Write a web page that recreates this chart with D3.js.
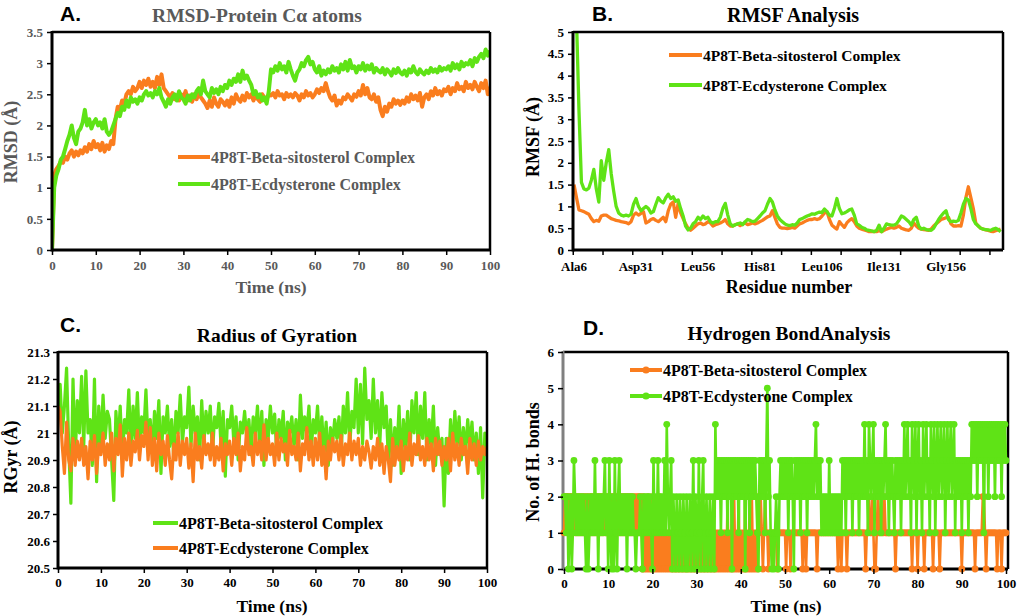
<!DOCTYPE html>
<html><head><meta charset="utf-8">
<script src="https://cdn.jsdelivr.net/npm/d3@7"></script>
<style>
body{margin:0;background:#fff}
svg{display:block}
text{font-family:"Liberation Serif","Times New Roman",serif;font-weight:bold}
</style></head><body>
<svg id="c" width="1019" height="616"></svg>
<script>
const ORANGE="#fa7d1e", GREEN="#5fe316";

// ---------- Panel A: RMSD (0..100 ns, every 0.5 ns) ----------
const rmsdBeta=[
0,1.2,1.3,1.35,1.42,1.4,1.5,1.45,1.55,1.6,
1.5,1.58,1.52,1.6,1.55,1.65,1.58,1.7,1.62,1.75,
1.65,1.7,1.6,1.72,1.58,1.68,1.62,1.75,1.7,2.1,
2.3,2.25,2.4,2.35,2.5,2.55,2.5,2.62,2.55,2.6,
2.7,2.6,2.72,2.65,2.75,2.62,2.7,2.6,2.78,2.65,
2.82,2.6,2.55,2.5,2.45,2.52,2.42,2.48,2.4,2.5,
2.45,2.55,2.4,2.48,2.38,2.5,2.42,2.52,2.45,2.4,
2.35,2.28,2.4,2.3,2.45,2.35,2.3,2.42,2.38,2.32,
2.4,2.3,2.45,2.35,2.5,2.42,2.38,2.48,2.4,2.52,
2.45,2.5,2.4,2.48,2.42,2.38,2.5,2.45,2.42,2.5,
2.48,2.52,2.45,2.55,2.48,2.5,2.42,2.52,2.46,2.5,
2.45,2.52,2.48,2.4,2.5,2.45,2.55,2.48,2.52,2.45,
2.5,2.58,2.52,2.6,2.55,2.68,2.55,2.45,2.4,2.48,
2.32,2.4,2.35,2.45,2.42,2.5,2.45,2.4,2.5,2.46,
2.55,2.48,2.65,2.5,2.6,2.45,2.42,2.5,2.38,2.45,
2.25,2.15,2.3,2.22,2.35,2.3,2.42,2.35,2.4,2.33,
2.4,2.35,2.45,2.38,2.5,2.42,2.48,2.4,2.52,2.3,
2.45,2.5,2.42,2.55,2.48,2.6,2.5,2.55,2.48,2.58,
2.55,2.62,2.5,2.6,2.55,2.68,2.58,2.62,2.55,2.7,
2.6,2.65,2.58,2.7,2.62,2.55,2.68,2.6,2.72,2.5,
2.62];
const rmsdEcdy=[
0,1.0,1.2,1.3,1.45,1.5,1.62,1.75,1.85,2.0,
1.8,1.7,1.9,1.95,2.05,2.25,2.0,2.1,1.95,2.05,
2.1,2.0,2.05,1.95,2.1,1.9,1.85,1.9,2.0,2.1,
2.2,2.15,2.3,2.25,2.4,2.3,2.45,2.38,2.42,2.35,
2.45,2.4,2.5,2.55,2.48,2.52,2.45,2.55,2.5,2.6,
2.45,2.38,2.3,2.42,2.35,2.45,2.5,2.4,2.55,2.45,
2.42,2.35,2.48,2.4,2.5,2.45,2.55,2.6,2.5,2.72,
2.55,2.5,2.45,2.6,2.52,2.58,2.5,2.62,2.55,2.65,
2.6,2.72,2.65,2.75,2.7,2.82,2.7,2.88,2.75,2.8,
2.72,2.65,2.5,2.55,2.45,2.5,2.4,2.45,2.35,2.55,
2.9,2.85,2.95,2.88,3.0,2.9,2.95,2.85,3.02,2.9,
2.8,2.72,2.85,2.9,3.0,2.95,3.05,3.1,2.98,3.02,
2.9,2.85,2.95,2.8,2.88,2.82,2.9,2.85,2.95,2.88,
2.92,2.85,2.98,2.9,3.02,2.88,3.05,2.92,2.95,2.85,
2.95,2.9,3.0,2.88,2.96,2.9,2.98,2.85,2.92,2.88,
2.85,2.92,2.82,2.9,2.86,2.8,2.9,2.84,2.92,2.85,
2.82,2.88,2.8,2.9,2.85,2.95,2.86,2.82,2.9,2.85,
2.82,2.88,2.84,2.92,2.86,2.9,2.85,2.94,2.88,2.92,
2.9,2.95,2.88,3.0,2.92,2.98,2.9,3.02,2.95,3.0,
2.98,3.05,2.95,3.08,3.02,3.1,3.15,3.08,3.22,3.12,
3.2];
const rmsdTicks=[0,0.5,1,1.5,2,2.5,3,3.5];
const timeTicks=[0,10,20,30,40,50,60,70,80,90,100];

// ---------- Panel B: RMSF per residue (6..178) ----------
const resFirst=6;
const rmsfBeta=[
1.5,1.2,0.92,0.9,0.88,0.85,0.82,0.72,0.65,0.68,
0.66,0.78,0.8,0.8,0.76,0.72,0.7,0.68,0.67,0.65,
0.64,0.63,0.6,0.65,0.8,0.85,0.8,0.84,0.88,0.62,
0.65,0.7,0.72,0.68,0.65,0.7,0.75,0.65,0.9,1.05,
1.1,0.75,1.07,0.85,0.72,0.6,0.5,0.45,0.5,0.55,
0.6,0.62,0.58,0.6,0.65,0.62,0.55,0.58,0.6,0.62,
0.65,0.7,0.6,0.55,0.55,0.58,0.6,0.56,0.6,0.62,
0.58,0.6,0.62,0.6,0.62,0.65,0.68,0.72,0.76,0.78,
0.9,0.75,0.6,0.52,0.5,0.5,0.49,0.5,0.52,0.5,
0.55,0.6,0.62,0.65,0.68,0.7,0.7,0.72,0.7,0.72,
0.78,0.85,0.88,0.7,0.57,0.52,0.48,0.65,0.58,0.52,
0.62,0.68,0.72,0.65,0.55,0.5,0.48,0.46,0.44,0.42,
0.42,0.43,0.42,0.44,0.42,0.45,0.48,0.5,0.52,0.5,
0.52,0.55,0.5,0.48,0.46,0.45,0.5,0.62,0.55,0.5,
0.48,0.47,0.46,0.45,0.48,0.55,0.6,0.65,0.7,0.72,
0.74,0.75,0.6,0.55,0.55,0.56,0.55,0.8,1.2,1.45,
1.2,0.95,0.62,0.55,0.5,0.48,0.46,0.45,0.43,0.42,
0.44,0.46,0.48];
const rmsfEcdy=[
5.8,5.3,3.2,1.55,1.4,1.38,1.42,1.6,1.85,1.4,
1.1,2.05,1.6,2.0,2.3,1.75,1.35,1.0,0.85,0.8,
0.78,0.8,0.78,0.82,1.05,1.18,1.0,0.9,0.95,1.0,
0.95,0.85,0.88,1.05,1.2,1.12,1.08,1.2,1.28,1.18,
1.22,1.12,1.15,0.95,0.78,0.55,0.46,0.5,0.6,0.65,
0.75,0.7,0.78,0.72,0.75,0.65,0.62,0.65,0.65,0.75,
0.95,1.07,0.8,0.6,0.55,0.58,0.6,0.62,0.58,0.65,
0.7,0.68,0.65,0.66,0.72,0.78,0.85,0.9,1.05,1.18,
1.1,0.92,0.78,0.7,0.65,0.6,0.57,0.56,0.58,0.57,
0.62,0.7,0.72,0.75,0.78,0.8,0.83,0.82,0.85,0.87,
0.86,0.94,0.88,0.8,0.78,0.95,1.18,0.95,0.83,0.85,
0.88,0.92,0.94,0.8,0.6,0.57,0.52,0.5,0.46,0.45,
0.44,0.42,0.45,0.57,0.42,0.5,0.6,0.58,0.57,0.57,
0.6,0.68,0.78,0.75,0.7,0.65,0.57,0.7,0.75,0.55,
0.48,0.5,0.47,0.46,0.45,0.5,0.6,0.7,0.78,0.85,
0.9,0.7,0.65,0.66,0.65,0.68,0.85,1.05,1.18,1.15,
0.95,0.7,0.6,0.55,0.5,0.48,0.47,0.46,0.45,0.48,
0.5,0.47,0.42];
const residueLabels=["Ala6","Asp31","Leu56","His81","Leu106","Ile131","Gly156"];
const residueLabelNums=[6,31,56,81,106,131,156];
const rmsfTicks=[0,0.5,1,1.5,2,2.5,3,3.5,4,4.5,5];

// ---------- Panel C: Radius of gyration (0..100 ns, every 0.5 ns) ----------
const rgBeta=[
21.05,21.18,21.0,21.1,21.24,20.95,20.74,21.2,20.9,21.12,
21.0,21.21,20.95,21.23,21.0,21.05,20.88,21.2,20.82,21.1,
20.95,21.14,20.98,21.08,21.05,20.9,20.75,21.08,20.95,21.1,
20.9,21.05,21.0,21.16,20.92,21.1,20.98,21.15,20.95,21.06,
21.0,21.16,20.96,21.05,20.92,21.08,20.98,21.12,20.85,21.06,
21.0,21.1,20.95,21.05,20.9,21.08,21.0,21.14,20.96,21.06,
21.02,21.17,20.95,21.1,21.0,21.06,20.9,21.12,20.96,21.08,
21.0,21.1,20.92,21.06,21.02,21.11,20.95,21.08,20.84,21.05,
21.02,21.1,20.96,21.06,20.9,21.04,21.0,21.08,20.98,21.05,
20.92,21.06,21.0,21.1,20.95,21.08,20.88,21.05,20.98,21.1,
21.0,21.07,20.92,21.05,20.98,21.08,20.9,21.04,21.0,21.06,
20.95,21.05,20.9,21.14,20.98,21.06,21.0,21.1,20.92,21.05,
21.0,21.1,20.95,21.06,20.92,21.04,20.88,21.02,20.96,21.05,
20.98,21.06,20.92,21.1,21.0,21.15,20.95,21.08,21.02,21.2,
21.0,21.18,20.96,21.24,21.05,21.12,20.98,21.2,21.0,21.12,
20.95,21.15,21.02,21.1,20.9,21.05,20.88,21.02,20.92,21.1,
20.85,21.05,20.95,21.08,20.9,21.12,21.0,21.15,20.92,21.1,
20.98,21.15,20.9,21.05,20.95,21.1,20.88,21.02,20.92,20.98,
20.73,20.98,20.85,21.05,20.92,21.08,20.95,21.06,20.9,21.02,
20.92,21.05,20.95,21.04,20.9,21.0,20.85,21.02,20.76,21.0,
20.98];
const rgEcdy=[
21.1,21.08,20.95,20.85,21.04,20.9,20.86,20.98,20.88,20.97,
20.9,20.98,20.88,20.95,20.83,20.97,20.9,20.99,20.85,20.96,
20.92,21.0,20.88,20.96,20.9,21.0,20.86,20.98,20.92,21.03,
20.84,20.98,20.9,21.0,20.88,20.97,20.93,21.01,20.9,20.99,
20.95,21.04,20.9,21.02,20.88,20.98,20.86,21.0,20.92,20.97,
20.88,20.99,20.9,20.83,20.96,20.9,21.0,20.88,20.97,20.92,
20.98,20.87,20.96,20.82,21.0,20.9,20.95,20.87,20.99,20.92,
20.96,20.9,21.0,20.88,20.95,20.9,20.98,20.86,20.96,20.92,
20.97,20.88,20.98,20.92,21.0,20.86,20.95,20.9,21.02,20.92,
20.95,20.88,21.0,20.92,20.97,20.9,21.03,20.9,20.98,20.92,
20.96,20.88,21.0,20.9,20.98,20.93,20.96,20.88,21.01,20.92,
20.95,20.9,21.0,20.86,20.96,20.92,21.02,20.9,20.97,20.88,
20.98,20.9,21.0,20.88,20.95,20.83,20.97,20.9,20.98,20.93,
20.97,20.9,20.99,20.88,20.96,20.92,21.0,20.9,20.97,20.92,
20.98,20.88,20.95,20.9,20.97,20.93,20.87,20.95,20.9,20.98,
20.88,20.96,20.85,20.95,20.9,20.82,20.98,20.88,20.95,20.9,
20.97,20.86,20.95,20.9,21.0,20.88,20.96,20.92,20.99,20.9,
20.95,20.88,20.98,20.9,20.96,20.86,20.98,20.92,20.97,20.88,
20.95,20.9,20.98,20.86,21.0,20.9,20.96,20.88,20.98,20.92,
20.95,20.85,20.98,20.9,20.96,20.88,20.97,20.9,20.95,20.92,
20.95];
const rgTicks=[20.5,20.6,20.7,20.8,20.9,21,21.1,21.2,21.3];

// ---------- Panel D: Hydrogen bonds (0..100 ns, every 0.25 ns) ----------
const hbBeta=[
1,2,2,2, 2,1,2,2, 1,2,1,2, 1,2,1,2, 1,2,1,2,
1,2,1,2, 1,2,1,2, 1,2,1,2, 1,2,1,2, 1,2,1,2,
1,2,1,2, 1,2,1,2, 1,2,1,2, 1,2,1,2, 1,2,1,2,
1,2,1,2, 1,2,1,2, 2,1,2,0, 2,0,1,0, 2,0,1,0,
2,0,1,0, 1,0,2,0, 1,0,1,0, 1,0,1,0, 1,0,1,0,
1,0,1,0, 1,0,1,0, 1,0,1,0, 1,0,1,0, 1,0,1,0,
1,0,1,0, 1,0,1,0, 1,0,1,0, 1,0,1,0, 1,0,1,0,
1,0,1,0, 1,0,1,0, 2,0,1,0, 2,0,2,0, 1,0,2,0,
1,0,1,0, 2,0,1,0, 2,0,2,0, 1,0,1,0, 2,1,2,1,
0,1,2,1, 1,0,1,1, 1,1,1,1, 1,0,1,1, 1,1,1,1,
1,0,1,1, 1,0,1,1, 1,1,1,1, 1,1,1,1, 0,1,1,0,
1,1,1,1, 1,1,1,1, 1,0,1,1, 1,1,1,1, 1,1,1,1,
1,1,1,1, 1,1,1,1, 0,1,1,0, 1,1,1,1, 0,1,1,1,
1,1,1,1, 1,1,1,1, 1,1,1,1, 1,0,1,1, 2,1,1,2,
1,0,0,1, 2,1,1,2, 1,1,2,1, 1,1,1,1, 1,1,1,1,
0,1,1,1, 1,1,1,1, 1,1,1,1, 1,1,1,0, 1,1,1,1,
0,1,1,1, 1,1,0,1, 1,1,1,1, 1,1,0,1, 1,1,1,1,
0,1,1,1, 1,1,1,1, 1,1,1,1, 1,1,1,1, 1,1,1,1,
0,1,1,1, 1,1,1,1, 1,1,1,1, 0,1,1,1, 1,1,1,2,
2,1,0,1, 1,1,1,1, 1,1,1,1, 0,1,1,1, 0,1,1,1,
1];
const hbEcdy=[
2,2,1,2, 0,1,2,0, 1,3,2,1, 2,1,2,1, 2,1,2,1,
0,2,0,1, 2,1,2,1, 3,1,2,0, 2,1,2,1, 2,3,1,2,
0,3,1,0, 2,0,3,1, 0,2,3,1, 2,1,2,1, 2,0,2,1,
2,1,2,1, 1,0,1,1, 1,2,1,0, 2,1,2,1, 2,1,2,1,
0,3,1,2, 1,3,1,2, 1,2,1,3, 1,4,2,1, 2,3,0,2,
1,0,2,1, 0,2,1,0, 2,1,0,2, 0,1,2,0, 1,3,0,2,
1,0,3,1, 0,2,3,0, 1,2,0,1, 2,0,1,2, 0,4,2,3,
2,3,1,3, 2,3,2,3, 1,3,2,3, 0,3,2,3, 2,3,1,3,
2,3,2,3, 0,3,2,3, 1,3,2,3, 2,3,2,1, 0,3,2,3,
2,3,1,3, 5,2,3,1, 0,1,0,1, 2,1,0,2, 3,2,3,2,
3,2,3,1, 3,2,3,2, 0,3,2,3, 2,3,1,3, 2,3,2,3,
1,3,2,3, 2,3,2,3, 4,2,3,2, 3,1,2,1, 2,1,2,1,
3,1,2,1, 2,1,2,1, 2,1,2,1, 3,2,3,1, 3,2,3,2,
3,1,3,2, 3,2,3,1, 3,2,3,2, 4,2,3,1, 4,3,2,3,
4,1,3,2, 3,2,3,1, 3,2,3,4, 2,3,1,3, 2,3,2,1,
3,2,3,2, 3,1,3,2, 4,2,3,4, 2,3,1,4, 3,2,4,1,
3,4,2,3, 1,4,2,3, 4,2,3,1, 4,3,2,4, 1,3,4,2,
3,4,2,3, 4,1,3,4, 2,3,4,2, 3,4,1,3, 2,3,2,3,
1,3,2,3, 2,3,1,3, 2,4,3,4, 3,4,2,4, 3,4,3,4,
1,4,3,4, 2,4,3,4, 3,4,2,4, 3,4,3,4, 2,4,3,4,
3];
const hbTicks=[0,1,2,3,4,5,6];

const legendBeta="4P8T-Beta-sitosterol Complex", legendEcdy="4P8T-Ecdysterone Complex";

// -------------------------------------------------------------
const svg=d3.select("#c");
const defs=svg.append("defs");
const times=rmsdBeta.map((d,i)=>i*0.5);
const hbTimes=hbEcdy.map((d,i)=>i*0.25);
const fmt=d3.format("~g");

function axisStyle(g,color,fs){
  g.attr("font-family","Liberation Serif").attr("font-size",fs).attr("font-weight","bold");
  g.select(".domain").remove();
  g.selectAll(".tick line").attr("stroke","#000").attr("stroke-width",1.5);
  g.selectAll(".tick text").attr("fill",color).style("font-size",fs+"px")
   .style("font-family","'Liberation Serif',serif").style("font-weight","bold");
}
function clip(id,x0,y0,x1,y1){
  defs.append("clipPath").attr("id",id).append("rect")
    .attr("x",x0).attr("y",y0).attr("width",x1-x0).attr("height",y1-y0);
  return "url(#"+id+")";
}
function frameBox(x0,y0,x1,y1,leftColor){
  const g=svg.append("g");
  g.append("line").attr("x1",x0).attr("x2",x1).attr("y1",y0).attr("y2",y0).attr("stroke","#000").attr("stroke-width",2.5);
  g.append("line").attr("x1",x1).attr("x2",x1).attr("y1",y0).attr("y2",y1).attr("stroke","#000").attr("stroke-width",2.5);
  g.append("line").attr("x1",x0).attr("x2",x1).attr("y1",y1).attr("y2",y1).attr("stroke","#000").attr("stroke-width",3);
  g.append("line").attr("x1",x0).attr("x2",x0).attr("y1",y0-1).attr("y2",y1+1.5).attr("stroke",leftColor||"#000").attr("stroke-width",3);
}
function txt(x,y,s,o){
  const t=svg.append("text").attr("x",x).attr("y",y).text(s)
    .style("font-size",(o.fs||18)+"px").attr("fill",o.fill||"#000")
    .attr("text-anchor",o.anchor||"middle");
  if(o.sans) t.style("font-family","'Liberation Sans',Arial,sans-serif");
  if(o.rot) t.attr("transform","rotate(-90,"+x+","+y+")");
  return t;
}
function legendLine(x0,x1,y,color,label,o){
  svg.append("line").attr("x1",x0).attr("x2",x1).attr("y1",y).attr("y2",y)
    .attr("stroke",color).attr("stroke-width",o.sw||4);
  if(o.marker) svg.append("circle").attr("cx",(x0+x1)/2).attr("cy",y).attr("r",3.6).attr("fill",color);
  txt(x1+1,y+5.5,label,{fs:o.fs||16,anchor:"start",fill:o.fill||"#000"});
}

// ===== Panel A =====
{
  const GR="#595959";
  const x=d3.scaleLinear().domain([0,100]).range([52,490]);
  const y=d3.scaleLinear().domain([0,3.5]).range([250,32]);
  const cp=clip("cA",52,32,490,250);
  const line=d3.line().x((d,i)=>x(times[i])).y(d=>y(d));
  svg.append("path").datum(rmsdBeta).attr("d",line).attr("fill","none").attr("stroke",ORANGE)
    .attr("stroke-width",4).attr("stroke-linejoin","round").attr("clip-path",cp);
  svg.append("path").datum(rmsdEcdy).attr("d",line).attr("fill","none").attr("stroke",GREEN)
    .attr("stroke-width",4).attr("stroke-linejoin","round").attr("clip-path",cp);
  frameBox(52,32,490,250);
  svg.append("g").attr("transform","translate(52,0)")
    .call(d3.axisLeft(y).tickValues(rmsdTicks).tickFormat(fmt).tickSize(5).tickPadding(4))
    .call(g=>axisStyle(g,GR,13));
  svg.append("g").attr("transform","translate(0,250)")
    .call(d3.axisBottom(x).tickValues(timeTicks).tickFormat(fmt).tickSize(5).tickPadding(6))
    .call(g=>axisStyle(g,GR,13));
  txt(60,21,"A.",{fs:21,sans:true,anchor:"start"});
  txt(257,22,"RMSD-Protein C\u03b1 atoms",{fs:19.5,fill:GR});
  txt(271,293,"Time (ns)",{fs:17.5,fill:GR});
  txt(17,142,"RMSD (\u00c5)",{fs:18,fill:GR,rot:true});
  legendLine(178,210,157,ORANGE,legendBeta,{fill:GR,fs:16});
  legendLine(178,210,184,GREEN,legendEcdy,{fill:GR,fs:16});
}

// ===== Panel B =====
{
  const residues=rmsfBeta.map((d,i)=>resFirst+i);
  const x=d3.scaleLinear().domain([6,178]).range([574,1000.6]);
  const y=d3.scaleLinear().domain([0,5]).range([250,32]);
  const cp=clip("cB",573,32,1003,250);
  const line=d3.line().x((d,i)=>x(residues[i])).y(d=>y(d));
  svg.append("path").datum(rmsfBeta).attr("d",line).attr("fill","none").attr("stroke",ORANGE)
    .attr("stroke-width",3.3).attr("stroke-linejoin","round").attr("clip-path",cp);
  svg.append("path").datum(rmsfEcdy).attr("d",line).attr("fill","none").attr("stroke",GREEN)
    .attr("stroke-width",3.3).attr("stroke-linejoin","round").attr("clip-path",cp);
  frameBox(573,32,1003,250);
  svg.append("g").attr("transform","translate(573,0)")
    .call(d3.axisLeft(y).tickValues(rmsfTicks).tickFormat(fmt).tickSize(5).tickPadding(4))
    .call(g=>axisStyle(g,"#000",13));
  const tickRes=d3.range(5.5,178,12);
  svg.append("g").attr("transform","translate(0,250)")
    .call(d3.axisBottom(x).tickValues(tickRes).tickFormat("").tickSize(5))
    .call(g=>axisStyle(g,"#000",13));
  residueLabels.forEach((s,i)=>txt(x(residueLabelNums[i]),271,s,{fs:13}));
  txt(592,21,"B.",{fs:21,sans:true,anchor:"start"});
  txt(793,22,"RMSF Analysis",{fs:20});
  txt(789,293,"Residue number",{fs:18});
  txt(539,137,"RMSF (\u00c5)",{fs:18,rot:true});
  legendLine(669,702,55,ORANGE,legendBeta,{fs:15.5});
  legendLine(669,702,85,GREEN,legendEcdy,{fs:15.5});
}

// ===== Panel C =====
{
  const x=d3.scaleLinear().domain([0,100]).range([58,487]);
  const y=d3.scaleLinear().domain([20.5,21.3]).range([568,352]);
  const cp=clip("cC",58,352,487,568);
  const line=d3.line().x((d,i)=>x(times[i])).y(d=>y(d));
  svg.append("path").datum(rgBeta).attr("d",line).attr("fill","none").attr("stroke",GREEN)
    .attr("stroke-width",3.2).attr("stroke-linejoin","round").attr("clip-path",cp);
  svg.append("path").datum(rgEcdy).attr("d",line).attr("fill","none").attr("stroke",ORANGE)
    .attr("stroke-width",3.2).attr("stroke-linejoin","round").attr("clip-path",cp);
  frameBox(58,352,487,568);
  svg.append("g").attr("transform","translate(58,0)")
    .call(d3.axisLeft(y).tickValues(rgTicks).tickFormat(fmt).tickSize(5).tickPadding(3))
    .call(g=>axisStyle(g,"#000",13));
  svg.append("g").attr("transform","translate(0,568)")
    .call(d3.axisBottom(x).tickValues(timeTicks).tickFormat(fmt).tickSize(5).tickPadding(5))
    .call(g=>axisStyle(g,"#000",13));
  txt(60,332,"C.",{fs:21,sans:true,anchor:"start"});
  txt(277,342,"Radius of Gyration",{fs:19.5});
  txt(272,612,"Time (ns)",{fs:17.5});
  txt(17,457,"RGyr (\u00c5)",{fs:18,rot:true});
  legendLine(153,178,523,GREEN,legendBeta,{fs:16});
  legendLine(153,178,548,ORANGE,legendEcdy,{fs:16});
}

// ===== Panel D =====
{
  const x=d3.scaleLinear().domain([0,100]).range([564,1006]);
  const y=d3.scaleLinear().domain([0,6]).range([569,352]);
  const line=d3.line().x((d,i)=>x(hbTimes[i])).y(d=>y(d));
  const series=[[hbBeta,ORANGE],[hbEcdy,GREEN]];
  frameBox(563,352,1008,569,"#808080");
  series.forEach(([data,col])=>{
    svg.append("path").datum(data).attr("d",line).attr("fill","none").attr("stroke",col)
      .attr("stroke-width",2.6).attr("stroke-linejoin","round");
    svg.append("g").selectAll("circle").data(data).join("circle")
      .attr("cx",(d,i)=>x(hbTimes[i])).attr("cy",d=>y(d)).attr("r",3.4).attr("fill",col);
  });
  svg.append("g").attr("transform","translate(563,0)")
    .call(d3.axisLeft(y).tickValues(hbTicks).tickFormat(fmt).tickSize(5).tickPadding(4))
    .call(g=>axisStyle(g,"#000",13));
  svg.append("g").attr("transform","translate(0,569)")
    .call(d3.axisBottom(x).tickValues(timeTicks).tickFormat(fmt).tickSize(5).tickPadding(5))
    .call(g=>axisStyle(g,"#000",13));
  txt(583,335,"D.",{fs:21,sans:true,anchor:"start"});
  txt(789,340,"Hydrogen BondAnalysis",{fs:19.5});
  txt(786,612,"Time (ns)",{fs:17.5});
  txt(539,462,"No. of H. bonds",{fs:18,rot:true});
  legendLine(630,662,370,ORANGE,legendBeta,{fs:16,sw:4,marker:true});
  legendLine(630,662,396,GREEN,legendEcdy,{fs:16,sw:4,marker:true});
}
</script></body></html>
